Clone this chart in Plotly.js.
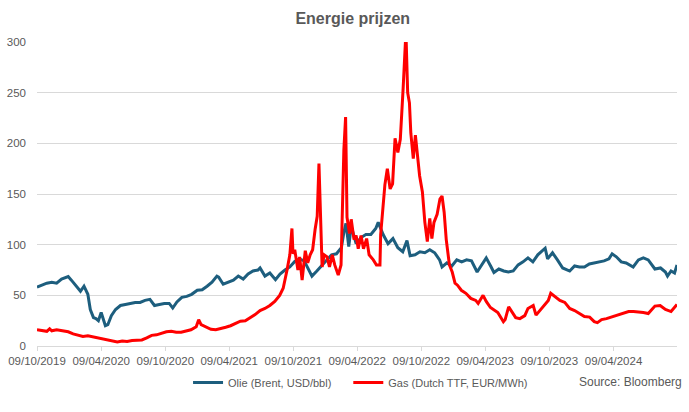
<!DOCTYPE html>
<html>
<head>
<meta charset="utf-8">
<script src="https://cdn.plot.ly/plotly-3.0.1.min.js"></script>
<style>
html,body{margin:0;padding:0;background:#fff;}
#chart{width:689px;height:412px;}
</style>
</head>
<body>
<div id="chart"></div>
<script>
// Brent oil (USD/bbl)
const oilDates = ["2019-10-09","2019-10-23","2019-11-06","2019-11-20","2019-12-04","2019-12-18","2020-01-06","2020-01-15","2020-01-29","2020-02-10","2020-02-20","2020-03-02","2020-03-09","2020-03-18","2020-03-25","2020-04-01","2020-04-09","2020-04-21","2020-04-28","2020-05-08","2020-05-20","2020-06-03","2020-06-17","2020-07-01","2020-07-15","2020-07-29","2020-08-12","2020-08-26","2020-09-08","2020-09-22","2020-10-06","2020-10-20","2020-10-30","2020-11-11","2020-11-25","2020-12-09","2020-12-23","2021-01-08","2021-01-22","2021-02-05","2021-02-19","2021-03-05","2021-03-10","2021-03-23","2021-04-07","2021-04-21","2021-05-05","2021-05-19","2021-06-02","2021-06-16","2021-06-30","2021-07-06","2021-07-20","2021-08-03","2021-08-19","2021-09-01","2021-09-15","2021-09-29","2021-10-13","2021-10-26","2021-11-09","2021-11-26","2021-12-01","2021-12-15","2021-12-29","2022-01-12","2022-01-26","2022-02-09","2022-02-23","2022-03-02","2022-03-08","2022-03-16","2022-03-23","2022-04-06","2022-04-20","2022-05-04","2022-05-18","2022-06-01","2022-06-08","2022-06-22","2022-07-06","2022-07-20","2022-08-03","2022-08-17","2022-08-29","2022-09-07","2022-09-21","2022-10-05","2022-10-19","2022-11-02","2022-11-16","2022-11-30","2022-12-07","2022-12-21","2023-01-04","2023-01-18","2023-02-01","2023-02-15","2023-03-01","2023-03-17","2023-03-29","2023-04-12","2023-04-26","2023-05-04","2023-05-18","2023-06-01","2023-06-14","2023-06-28","2023-07-12","2023-07-26","2023-08-09","2023-08-23","2023-09-06","2023-09-27","2023-10-04","2023-10-18","2023-11-01","2023-11-16","2023-12-06","2023-12-20","2024-01-03","2024-01-17","2024-01-31","2024-02-14","2024-02-28","2024-03-13","2024-03-27","2024-04-05","2024-04-17","2024-05-01","2024-05-15","2024-06-04","2024-06-19","2024-07-03","2024-07-17","2024-08-05","2024-08-21","2024-09-04","2024-09-10","2024-09-20","2024-09-30","2024-10-07"];
const oilValues = [58,60,62,63,62,66,68.5,65,59,54,59,51,36,28,27,25,33,20,21,30,36,40,41,42,43,43,45,46,40,41,42,42,37.5,43.5,48,49,51,55,55.5,59,63,69,68,61,63,65,69,66,71,74,75,77,69,72,65.5,71,75,78,83.5,86,84,72.5,69,74,79,84,90,91,97,112,121,98,118,101,107,110,110,116,122,110,101,106,97,93,104,89,90,93,92,95,92,85,78,82,79,85,83,85,84,73,79,87,78,72.5,76,74,73,74,80,83,87,83,90,96.5,86,92,85,77,74,79,78,78,81,82,83,84,86,91,88,83,82,78,85,87,85,76,77,73,69,74,72,80];

// Dutch TTF gas (EUR/MWh)
const gasDates = ["2019-10-09","2019-10-23","2019-11-06","2019-11-14","2019-11-20","2019-12-04","2019-12-18","2020-01-06","2020-01-20","2020-02-03","2020-02-17","2020-03-02","2020-03-16","2020-03-30","2020-04-13","2020-04-27","2020-05-11","2020-05-25","2020-06-08","2020-06-22","2020-07-06","2020-07-20","2020-08-03","2020-08-17","2020-08-31","2020-09-14","2020-09-28","2020-10-12","2020-10-26","2020-11-09","2020-11-23","2020-12-07","2020-12-21","2021-01-05","2021-01-12","2021-01-19","2021-02-02","2021-02-16","2021-03-02","2021-03-16","2021-03-30","2021-04-13","2021-04-27","2021-05-11","2021-05-25","2021-06-08","2021-06-22","2021-07-06","2021-07-20","2021-08-03","2021-08-17","2021-08-31","2021-09-10","2021-09-21","2021-09-29","2021-10-05","2021-10-08","2021-10-13","2021-10-22","2021-10-27","2021-11-03","2021-11-12","2021-11-19","2021-11-26","2021-12-03","2021-12-10","2021-12-16","2021-12-21","2021-12-24","2021-12-30","2022-01-05","2022-01-13","2022-01-20","2022-01-28","2022-02-04","2022-02-14","2022-02-22","2022-02-25","2022-03-02","2022-03-07","2022-03-11","2022-03-18","2022-03-23","2022-03-31","2022-04-06","2022-04-12","2022-04-20","2022-04-27","2022-05-06","2022-05-13","2022-05-25","2022-06-03","2022-06-13","2022-06-15","2022-06-22","2022-06-27","2022-07-04","2022-07-12","2022-07-19","2022-07-26","2022-08-03","2022-08-10","2022-08-18","2022-08-26","2022-08-31","2022-09-05","2022-09-09","2022-09-16","2022-09-22","2022-09-28","2022-10-04","2022-10-12","2022-10-19","2022-10-26","2022-11-02","2022-11-08","2022-11-14","2022-11-23","2022-12-01","2022-12-07","2022-12-13","2022-12-19","2022-12-28","2023-01-05","2023-01-13","2023-01-20","2023-01-31","2023-02-13","2023-02-27","2023-03-13","2023-03-20","2023-04-03","2023-04-12","2023-04-24","2023-05-15","2023-05-31","2023-06-05","2023-06-15","2023-06-26","2023-07-05","2023-07-17","2023-07-31","2023-08-09","2023-08-24","2023-09-01","2023-09-15","2023-10-06","2023-10-13","2023-10-25","2023-11-08","2023-11-22","2023-12-06","2023-12-20","2024-01-03","2024-01-17","2024-02-01","2024-02-14","2024-02-23","2024-03-06","2024-03-20","2024-04-09","2024-04-24","2024-05-08","2024-05-22","2024-06-05","2024-06-19","2024-07-03","2024-07-17","2024-08-05","2024-08-20","2024-09-04","2024-09-20","2024-09-30","2024-10-07"];
const gasValues = [16,15.5,14.5,17,15,16,15,14,12,10.5,9.5,10,9,8,7,6,5,4,5,4.5,5.5,5.5,6,8,10.5,11,12.5,14,14.5,13.5,13.5,15,16,19,26,21,18.5,16.5,16,17,18.5,20,22,24.5,25,28,31,35,37,40,44,50,57,75,90,116,91,95,75,88,65,94,82,90,95,115,128,180,140,78,90,88,78,90,80,70,80,134,193,226,127,111,125,105,109,96,109,96,106,90,85,80,80,110,135,159,175,155,160,205,191,204,254,310,250,240,210,185,208,190,168,152,122,103,126,106,122,130,145,148,132,105,80,73,62,60,55,52,47,45,42,50,44,38,33,24,26,38.7,32,28,27,30,37,40,30.5,36,45,52,49,45,43,37,35,32,29,28.5,24,23,26,27,29,31,32,34,34,33.8,33,32,39.4,40,36,34,38,41];

const tickDates = ["2019-10-09","2020-04-09","2020-10-09","2021-04-09","2021-10-09","2022-04-09","2022-10-09","2023-04-09","2023-10-09","2024-04-09"];
const tickLabels = ["09/10/2019","09/04/2020","09/10/2020","09/04/2021","09/10/2021","09/04/2022","09/10/2022","09/04/2023","09/10/2023","09/04/2024"];
const yTicks = [0,50,100,150,200,250,300];

const FONT = "Arial, 'Liberation Sans', sans-serif";
const GREY = "#595959";

const traces = [
  {x: oilDates, y: oilValues, type: "scatter", mode: "lines", name: "Olie (Brent, USD/bbl)",
   legend: "legend", line: {color: "#1d5e7e", width: 3, shape: "linear"}},
  {x: gasDates, y: gasValues, type: "scatter", mode: "lines", name: "Gas (Dutch TTF, EUR/MWh)",
   legend: "legend2", line: {color: "#ff0000", width: 3, shape: "linear"}}
];

const legendBase = {orientation: "h", xanchor: "left", y: -0.12, yanchor: "middle",
  font: {family: FONT, size: 11, color: GREY}, bgcolor: "rgba(0,0,0,0)"};

const layout = {
  width: 689, height: 412,
  margin: {l: 37, r: 12, t: 41.5, b: 66},
  paper_bgcolor: "#ffffff", plot_bgcolor: "#ffffff",
  font: {family: FONT, color: GREY, size: 11.5},
  title: {text: "<b>Energie prijzen</b>", font: {family: FONT, size: 16, color: GREY},
          x: 0.512, xref: "container", xanchor: "center", y: 0.956, yref: "container", yanchor: "middle"},
  showlegend: true,
  legend: Object.assign({}, legendBase, {x: 0.236}),
  legend2: Object.assign({}, legendBase, {x: 0.4864}),
  xaxis: {type: "date", range: ["2019-10-09","2024-10-07"], tickmode: "array",
          tickvals: tickDates, ticktext: tickLabels, showgrid: false, showline: true,
          linecolor: "#d9d9d9", linewidth: 1, ticks: "outside", ticklen: 4, tickcolor: "#d9d9d9",
          tickfont: {family: FONT, size: 11.5, color: GREY}, zeroline: false, fixedrange: true},
  yaxis: {range: [0,300], tickmode: "array", tickvals: yTicks, showgrid: true, gridcolor: "#d9d9d9",
          gridwidth: 1, showline: false, zeroline: false, ticks: "", ticklabelstandoff: 10,
          tickfont: {family: FONT, size: 11.5, color: GREY}, fixedrange: true},
  annotations: [
    {text: "Source: Bloomberg", xref: "paper", yref: "paper", x: 1.0114, y: -0.12,
     xanchor: "right", yanchor: "middle", showarrow: false, font: {family: FONT, size: 12, color: GREY}}
  ]
};

Plotly.newPlot("chart", traces, layout, {displayModeBar: false, staticPlot: true});
</script>
</body>
</html>
